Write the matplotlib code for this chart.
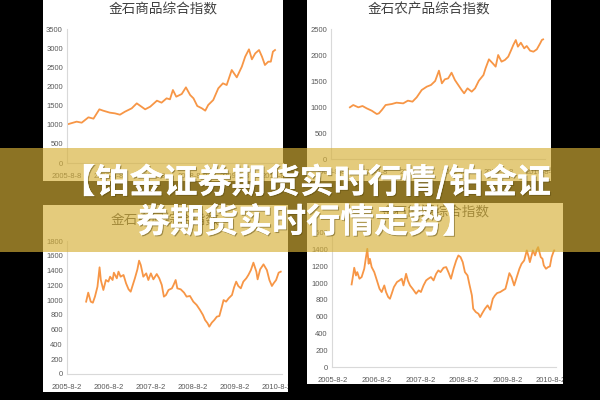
import matplotlib
matplotlib.use('Agg')
import matplotlib.pyplot as plt
import matplotlib.patheffects as pe
from matplotlib.patches import Rectangle

plt.rcParams['font.family'] = ['Noto Sans CJK SC', 'DejaVu Sans']

# 金石商品综合指数
sp_x = [2005.61, 2005.83, 2005.95, 2006.11, 2006.23, 2006.37, 2006.46, 2006.62, 2006.74, 2006.86,
        2006.98, 2007.14, 2007.26, 2007.46, 2007.58, 2007.74, 2007.85, 2007.97, 2008.05, 2008.12,
        2008.20, 2008.33, 2008.43, 2008.53, 2008.61, 2008.70, 2008.81, 2008.89, 2008.96, 2009.08,
        2009.20, 2009.31, 2009.40, 2009.52, 2009.64, 2009.76, 2009.84, 2009.93, 2010.00, 2010.08,
        2010.17, 2010.24, 2010.31, 2010.39, 2010.45, 2010.50, 2010.55]
sp_y = [1010, 1080, 1053, 1193, 1158, 1402, 1367, 1315, 1297, 1262,
        1341, 1428, 1558, 1402, 1471, 1628, 1576, 1689, 1663, 1907,
        1732, 1802, 1976, 1776, 1689, 1489, 1428, 1367, 1515, 1645,
        1950, 2081, 2037, 2429, 2237, 2516, 2777, 2969, 2708, 2864,
        2951, 2777, 2560, 2647, 2647, 2908, 2951]

# 金石农产品综合指数
ny_x = [2006.05, 2006.13, 2006.25, 2006.35, 2006.45, 2006.57, 2006.69, 2006.74, 2006.81, 2006.90,
        2007.05, 2007.16, 2007.32, 2007.43, 2007.54, 2007.64, 2007.76, 2007.88, 2007.98, 2008.08,
        2008.17, 2008.24, 2008.31, 2008.39, 2008.47, 2008.55, 2008.63, 2008.71, 2008.77, 2008.85,
        2008.95, 2009.03, 2009.12, 2009.23, 2009.28, 2009.36, 2009.45, 2009.52, 2009.58, 2009.66,
        2009.74, 2009.82, 2009.89, 2009.94, 2010.00, 2010.05, 2010.12, 2010.20, 2010.26, 2010.34,
        2010.42, 2010.50, 2010.58, 2010.62, 2010.65]
ny_y = [994, 1038, 994, 1019, 974, 929, 865, 878, 942, 1038,
        1058, 1083, 1070, 1122, 1103, 1186, 1327, 1391, 1423, 1500,
        1699, 1455, 1532, 1551, 1660, 1519, 1423, 1327, 1263, 1359,
        1295, 1359, 1506, 1615, 1744, 1917, 1840, 1776, 2000, 1872,
        1904, 1968, 2096, 2192, 2288, 2160, 2237, 2128, 2173, 2083,
        2064, 2109, 2224, 2288, 2301]

# 金石金属综合指数
js_x = [2006.04, 2006.09, 2006.15, 2006.20, 2006.25, 2006.31, 2006.36, 2006.39, 2006.45, 2006.51,
        2006.57, 2006.61, 2006.67, 2006.70, 2006.77, 2006.81, 2006.86, 2006.93, 2006.99, 2007.05,
        2007.10, 2007.15, 2007.20, 2007.26, 2007.30, 2007.34, 2007.40, 2007.47, 2007.52, 2007.58,
        2007.64, 2007.72, 2007.78, 2007.84, 2007.89, 2007.94, 2008.00, 2008.08, 2008.12, 2008.17,
        2008.21, 2008.29, 2008.37, 2008.43, 2008.51, 2008.59, 2008.67, 2008.75, 2008.82, 2008.87,
        2008.93, 2008.97, 2009.03, 2009.09, 2009.15, 2009.21, 2009.27, 2009.31, 2009.37, 2009.43,
        2009.51, 2009.56, 2009.61, 2009.66, 2009.72, 2009.78, 2009.85, 2009.90, 2009.96, 2010.02,
        2010.09, 2010.12, 2010.18, 2010.26, 2010.34, 2010.40, 2010.46, 2010.50, 2010.56, 2010.62,
        2010.67]
js_y = [979, 1101, 979, 965, 1047, 1182, 1444, 1272, 1137, 1272,
        1250, 1317, 1272, 1371, 1295, 1385, 1317, 1340, 1227, 1146,
        1114, 1205, 1295, 1416, 1534, 1475, 1317, 1362, 1272, 1362,
        1281, 1353, 1295, 1205, 1047, 1069, 1137, 1159, 1205, 1272,
        1159, 1146, 1101, 1047, 1056, 979, 934, 866, 798, 731,
        686, 641, 695, 731, 776, 785, 911, 1001, 979, 1024,
        1069, 1173, 1250, 1191, 1159, 1250, 1295, 1340, 1407, 1507,
        1385, 1281, 1416, 1484, 1407, 1272, 1191, 1227, 1272, 1371,
        1385]

# 金石能源综合指数
ny2_x = [2006.01, 2006.05, 2006.07, 2006.11, 2006.14, 2006.19, 2006.24, 2006.30, 2006.34, 2006.37,
         2006.40, 2006.43, 2006.47, 2006.53, 2006.59, 2006.65, 2006.70, 2006.76, 2006.80, 2006.85,
         2006.89, 2006.93, 2006.98, 2007.05, 2007.11, 2007.16, 2007.20, 2007.26, 2007.30, 2007.35,
         2007.41, 2007.49, 2007.55, 2007.60, 2007.66, 2007.72, 2007.77, 2007.83, 2007.89, 2007.95,
         2008.00, 2008.05, 2008.12, 2008.18, 2008.23, 2008.29, 2008.35, 2008.41, 2008.46, 2008.51,
         2008.56, 2008.61, 2008.67, 2008.71, 2008.77, 2008.80, 2008.86, 2008.92, 2008.96, 2009.01,
         2009.07, 2009.13, 2009.19, 2009.25, 2009.30, 2009.35, 2009.42, 2009.48, 2009.54, 2009.58,
         2009.63, 2009.68, 2009.74, 2009.80, 2009.86, 2009.91, 2009.97, 2010.03, 2010.07, 2010.10,
         2010.17, 2010.22, 2010.26, 2010.29, 2010.35, 2010.39, 2010.42, 2010.47, 2010.52, 2010.56,
         2010.60, 2010.64, 2010.66]
ny2_y = [986, 1113, 1185, 1093, 1133, 1054, 1074, 1173, 1312, 1411,
         1233, 1292, 1193, 1133, 1034, 934, 895, 974, 895, 835,
         815, 875, 954, 1014, 1034, 1054, 974, 1113, 1034, 974,
         934, 875, 915, 895, 974, 1034, 1054, 1074, 1034, 1113,
         1153, 1133, 1185, 1193, 1133, 1054, 1173, 1272, 1332, 1312,
         1252, 1133, 1093, 994, 855, 696, 656, 636, 596, 644,
         696, 736, 684, 815, 855, 883, 895, 915, 934, 1014,
         1121, 1074, 974, 1074, 1173, 1233, 1272, 1392, 1320, 1252,
         1392, 1332, 1400, 1431, 1312, 1292, 1213, 1173, 1193, 1201,
         1312, 1372, 1392]

titles = ['金石商品综合指数', '金石农产品综合指数', '金石金属综合指数', '金石能源综合指数']
top_ticks = [2005.6, 2006.6, 2007.6, 2008.6, 2009.6, 2010.6]
top_labels = ['2005-8-8', '2006-8-8', '2007-8-8', '2008-8-8', '2009-8-8', '2010-8-8']
bot_ticks = [2005.585, 2006.585, 2007.585, 2008.585, 2009.585, 2010.585]
bot_labels = ['2005-8-2', '2006-8-2', '2007-8-2', '2008-8-2', '2009-8-2', '2010-8-2']

banner_l1 = '【铂金证券期货实时行情/铂金证'
banner_l2 = '券期货实时行情走势】'

W, H = 600, 400


def rect(x0, y0, x1, y1):
    # 像素框(y向下) -> figure 坐标
    return [x0 / W, 1 - y1 / H, (x1 - x0) / W, (y1 - y0) / H]


fig = plt.figure(figsize=(6, 4), dpi=100, facecolor='black')

panels = [
    # card box, plot box, x, y, title, title y, ymax, ystep, xlim, ticks, labels
    ((43, 0, 283, 181), (67, 29, 283, 163), sp_x, sp_y, titles[0], 9, 3500, 500, (2005.6, 2010.74), top_ticks, top_labels),
    ((307, 0, 551, 181), (331, 29, 545, 159), ny_x, ny_y, titles[1], 9, 2500, 500, (2005.6, 2010.695), top_ticks, top_labels),
    ((43, 205, 288, 392), (67, 241, 282, 374), js_x, js_y, titles[2], 220, 1800, 200, (2005.585, 2010.70), bot_ticks, bot_labels),
    ((307, 203, 563, 384), (332, 233, 556, 367), ny2_x, ny2_y, titles[3], 212, 1600, 200, (2005.56, 2010.70), bot_ticks, bot_labels),
]

for card_box, plot_box, xs, ys, title, ty, ymax, ystep, xl, ticks, labels in panels:
    card = fig.add_axes(rect(*card_box))
    card.set_facecolor('white')
    card.set_xticks([])
    card.set_yticks([])
    for s in card.spines.values():
        s.set_visible(False)
    cx = (card_box[0] + card_box[2]) / 2 / W
    fig.text(cx, 1 - ty / H, title, ha='center', va='center', fontsize=9.8,
             color='#404040', fontweight='light')

    ax = fig.add_axes(rect(*plot_box))
    ax.patch.set_visible(False)
    ax.plot(xs, ys, color='#F79646', lw=1.3)
    ax.set_ylim(0, ymax)
    ax.set_yticks(range(0, ymax + 1, ystep))
    ax.set_xlim(*xl)
    ax.set_xticks(ticks)
    ax.set_xticklabels(labels)
    for side in ['top', 'right']:
        ax.spines[side].set_visible(False)
    for side in ['left', 'bottom']:
        ax.spines[side].set_color('#d9d9d9')
        ax.spines[side].set_linewidth(0.8)
    ax.tick_params(length=0, labelsize=5.5, labelcolor='#595959', pad=7)
    ax.tick_params(axis='y', pad=3)
    for lab in ax.get_xticklabels() + ax.get_yticklabels():
        lab.set_family('Liberation Sans')
        lab.set_clip_path(card.patch)

# 半透明横幅
fig.add_artist(Rectangle((0, 1 - 252 / H), 1, 104 / H, transform=fig.transFigure,
                         facecolor=(0.84, 0.69, 0.22), alpha=0.66, edgecolor='none', zorder=5))
shadow = [pe.withSimplePatchShadow(offset=(0.8, -0.8), shadow_rgbFace='#5a4a10', alpha=0.5), pe.Normal()]
fig.text(0.51, 1 - 182 / H, banner_l1, ha='center', va='center', fontsize=24.5,
         color='white', fontweight='black', zorder=6, path_effects=shadow)
fig.text(0.51, 1 - 222 / H, banner_l2, ha='center', va='center', fontsize=24.5,
         color='white', fontweight='black', zorder=6, path_effects=shadow)

fig.savefig('out.png', dpi=100, facecolor='black')
